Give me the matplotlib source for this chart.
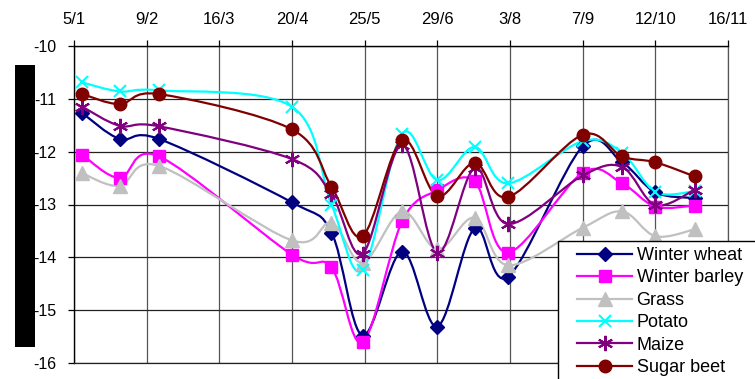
import datetime as dt
import numpy as np
import matplotlib
matplotlib.use("Agg")
import matplotlib.pyplot as plt
from matplotlib.path import Path
from matplotlib.patches import PathPatch, Rectangle
from matplotlib.lines import Line2D

plt.rcParams['font.family'] = ['Liberation Sans', 'DejaVu Sans']
plt.rcParams['axes.unicode_minus'] = False

YEAR = 2009

# sampling dates (day/month)
sample_dates = ["9/1", "27/1", "15/2", "20/4", "9/5", "24/5", "12/6", "29/6",
                "17/7", "2/8", "7/9", "26/9", "12/10", "31/10"]

# axis ticks
tick_dates = ["5/1", "9/2", "16/3", "20/4", "25/5", "29/6", "3/8", "7/9",
              "12/10", "16/11"]
y_ticks = [-10, -11, -12, -13, -14, -15, -16]

series_names = ["Winter wheat", "Winter barley", "Grass", "Potato", "Maize",
                "Sugar beet"]

winter_wheat = [-11.27, -11.76, -11.76, -12.96, -13.53, -15.48, -13.89, -15.31,
                -13.45, -14.37, -11.90, -12.20, -12.77, -12.88]
winter_barley = [-12.06, -12.50, -12.09, -13.95, -14.19, -15.61, -13.32, -12.73,
                 -12.56, -13.91, -12.40, -12.60, -13.04, -13.02]
grass = [-12.41, -12.65, -12.27, -13.68, -13.35, -14.10, -13.13, -13.85,
         -13.25, -14.15, -13.44, -13.13, -13.60, -13.47]
potato = [-10.69, -10.86, -10.84, -11.15, -13.00, -14.24, -11.66, -12.54,
          -11.91, -12.60, -11.80, -12.02, -12.76, -12.75]
maize = [-11.15, -11.51, -11.52, -12.14, -12.81, -13.93, -11.87, -13.91,
         -12.31, -13.37, -12.45, -12.29, -13.01, -12.72]
sugar_beet = [-10.91, -11.10, -10.91, -11.58, -12.66, -13.60, -11.78, -12.84,
              -12.21, -12.86, -11.68, -12.09, -12.20, -12.47]

series_values = [winter_wheat, winter_barley, grass, potato, maize, sugar_beet]

styles = [
    dict(color="#000080", marker="D", ms=7.5, mew=1),
    dict(color="#FF00FF", marker="s", ms=8.5, mew=1),
    dict(color="#C0C0C0", marker="^", ms=9.5, mew=1),
    dict(color="#00FFFF", marker="x", ms=9, mew=1.5),
    dict(color="#800080", marker=(6, 2, 0), ms=11, mew=1.5),
    dict(color="#800000", marker="o", ms=9, mew=1),
]


def day_of_year(s):
    d, m = map(int, s.split("/"))
    return dt.date(YEAR, m, d).timetuple().tm_yday


def smooth_path(x, y):
    """Bezier path through the points (cardinal spline, Excel-style)."""
    pts = np.column_stack([x, y]).astype(float)
    n = len(pts)
    verts = [pts[0]]
    codes = [Path.MOVETO]
    for i in range(n - 1):
        p0 = pts[i - 1] if i > 0 else pts[i]
        p1 = pts[i]
        p2 = pts[i + 1]
        p3 = pts[i + 2] if i + 2 < n else pts[i + 1]
        c1 = p1 + (p2 - p0) / 6.0
        c2 = p2 - (p3 - p1) / 6.0
        verts += [c1, c2, p2]
        codes += [Path.CURVE4] * 3
    return Path(verts, codes)


W, H = 755, 379
fig = plt.figure(figsize=(W / 100, H / 100), dpi=100)
ax = fig.add_axes([74 / W, 16 / H, 654 / W, 317 / H])

x = [day_of_year(s) for s in sample_dates]
xt = [day_of_year(s) for s in tick_dates]

handles = []
for name, vals, st in zip(series_names, series_values, styles):
    patch = PathPatch(smooth_path(x, vals), facecolor="none",
                      edgecolor=st["color"], lw=1.6, zorder=3)
    ax.add_patch(patch)
    ax.plot(x, vals, linestyle="none", marker=st["marker"], ms=st["ms"],
            mew=st["mew"], color=st["color"], mec=st["color"], zorder=4)
    handles.append(Line2D([], [], color=st["color"], lw=1.6,
                          marker=st["marker"], ms=st["ms"], mew=st["mew"],
                          mec=st["color"]))

ax.set_xlim(xt[0], xt[-1])
ax.set_ylim(-16, -10)
ax.set_xticks(xt)
ax.set_xticklabels(tick_dates)
ax.set_yticks(y_ticks)
ax.set_yticklabels([str(v) for v in y_ticks])
ax.xaxis.tick_top()
ax.tick_params(axis="x", direction="out", length=4.5, width=0.9, pad=9,
               labelsize=12, colors="black")
ax.tick_params(axis="y", direction="out", length=4.5, width=0.9, pad=8,
               labelsize=11.5, colors="black")

ax.set_axisbelow(True)
ax.yaxis.grid(True, color="#222222", lw=0.9)
ax.xaxis.grid(True, color="#555555", lw=0.9)
for side in ["top", "left"]:
    ax.spines[side].set_color("black")
    ax.spines[side].set_linewidth(1.0)
ax.spines["right"].set_color("#555555")
ax.spines["right"].set_linewidth(0.9)
ax.spines["bottom"].set_color("#222222")
ax.spines["bottom"].set_linewidth(0.9)

# redacted axis title block
fig.patches.append(Rectangle((15 / W, (H - 347) / H), 20 / W, 282 / H,
                             transform=fig.transFigure, facecolor="black",
                             edgecolor="none", zorder=2))

# legend box running off the lower right corner
fig.patches.append(Rectangle((558 / W, -0.1), 0.5, (H - 241) / H + 0.1,
                             transform=fig.transFigure, facecolor="white",
                             edgecolor="black", lw=1.0, zorder=4))
leg = fig.legend(handles, series_names, loc="upper left",
                 bbox_to_anchor=(577 / W, 1 - 247 / H),
                 bbox_transform=fig.transFigure, frameon=False,
                 borderpad=0, borderaxespad=0, handlelength=3.05,
                 handletextpad=0.25, labelspacing=0.3, fontsize=13)
leg.set_zorder(6)

fig.savefig("out.png", dpi=100)
